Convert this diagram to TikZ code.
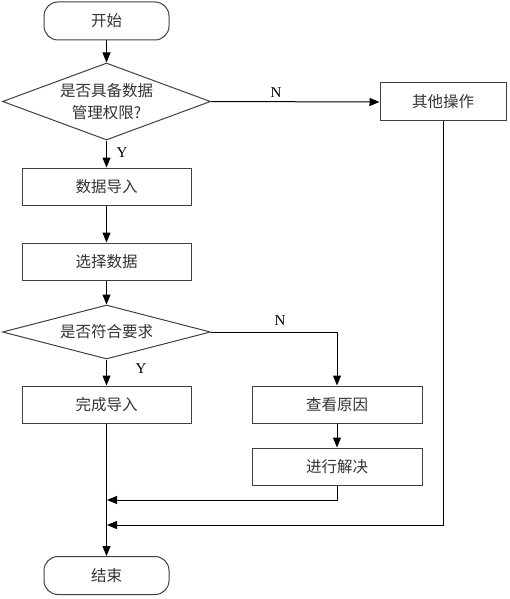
\documentclass[tikz,border=0pt]{standalone}
\usepackage{fontspec}
\setmainfont{Liberation Serif}
\newfontfamily\cjk{Noto Sans CJK SC}
\usetikzlibrary{shapes.geometric,arrows.meta}
\begin{document}
\begin{tikzpicture}[x=1pt,y=-1pt,
  box/.style={draw=black!75, line width=1pt, minimum width=169pt, minimum height=37pt,
    font=\cjk\fontsize{15.5}{17}\selectfont, inner sep=0pt, text=black!80},
  term/.style={box, rounded corners=14pt, minimum width=125pt, minimum height=38pt},
  dec/.style={draw=black!75, line width=1pt, diamond, aspect=2.7, minimum width=208pt,
    minimum height=77pt, inner sep=0pt, align=center, text=black!80,
    font=\cjk\fontsize{15.5}{22}\selectfont},
  arr/.style={line width=1pt, -{Triangle[length=10pt,width=8pt]}},
  lab/.style={font=\fontsize{15}{17}\selectfont, inner sep=0pt}
]
\useasboundingbox (0,0) rectangle (510,599);
\node[term] (start) at (106.5,21) {开始};
\node[dec] (d1) at (106.5,101.5) {是否具备数据\\管理权限?};
\node[box] (imp) at (106.5,186.5) {数据导入};
\node[box] (sel) at (106.5,261.5) {选择数据};
\node[dec, minimum height=54pt, aspect=3.9] (d2) at (106.5,332) {是否符合要求};
\node[box] (done) at (106.5,404.5) {完成导入};
\node[box, minimum width=170pt] (chk) at (337,404.5) {查看原因};
\node[box, minimum width=170pt] (fix) at (337,466.5) {进行解决};
\node[box, minimum width=126pt, minimum height=38pt] (other) at (443,102) {其他操作};
\node[term] (end) at (106.5,575.5) {结束};

\node[lab] (y1) at (122,153) {Y};
\node[lab] (n1) at (276,93) {N};
\node[lab] (y2) at (141,369) {Y};
\node[lab] (n2) at (280,321) {N};

\coordinate (m1) at (107,500);
\coordinate (m2) at (107,525);

\draw[arr] (start) -- (d1);
\draw[arr] (d1) -- (imp);
\draw[arr] (d1.east) -- (other.west);
\draw[arr] (imp) -- (sel);
\draw[arr] (sel) -- (d2);
\draw[arr] (d2) -- (done);
\draw[arr] (d2.east) -| (chk.north);
\draw[arr] (chk) -- (fix);
\draw[arr] (fix.south) |- (m1);
\draw[arr] (other.south) |- (m2);
\draw[arr] (done) -- (end);
\end{tikzpicture}
\end{document}
